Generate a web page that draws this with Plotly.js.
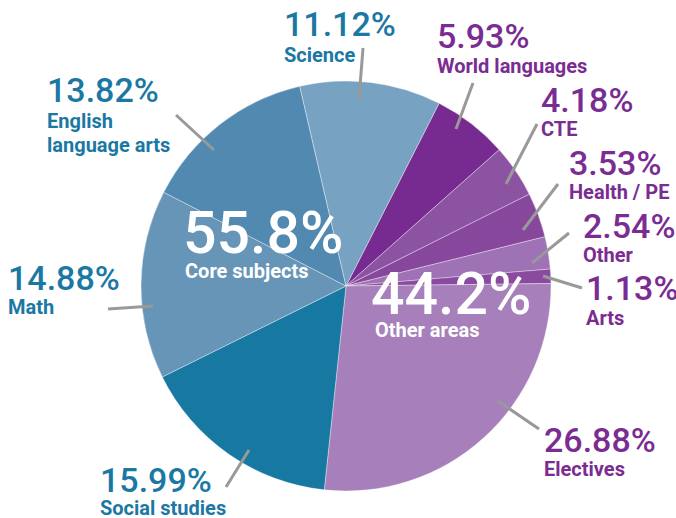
<!DOCTYPE html>
<html>
<head>
<meta charset="utf-8">
<script src="https://cdn.plot.ly/plotly-3.0.1.min.js"></script>
<style>html,body{margin:0;padding:0;background:#fff;}#chart{width:676px;height:518px;}</style>
</head>
<body>
<div id="chart"></div>
<script>
// ---- data ----
var subjects = ["World languages", "CTE", "Health / PE", "Other", "Arts", "Electives",
                "Social studies", "Math", "English language arts", "Science"];
var shares = [5.93, 4.18, 3.53, 2.54, 1.13, 26.88, 15.99, 14.88, 13.82, 11.12];
var groups = ["Other areas", "Other areas", "Other areas", "Other areas", "Other areas", "Other areas",
              "Core subjects", "Core subjects", "Core subjects", "Core subjects"];
var groupNames = ["Core subjects", "Other areas"];
var groupTotals = ["55.8%", "44.2%"];
var nameLabels = ["World languages", "CTE", "Health / PE", "Other", "Arts", "Electives",
                  "Social studies", "Math", "English<br>language arts", "Science"];

// ---- styles / layout ----
var sliceColors = ["#772a8f", "#8c53a2", "#86479c", "#9e72b4", "#8a4a9f", "#a780bb",
                   "#1778a2", "#6695b8", "#5189b0", "#78a2c1"];
var BLUE = "#1b78a3", PURPLE = "#7a2c92";
var W = 676, H = 518;
var CX = 346, CY = 286, R = 205;
// label placement: [left x, percent centre y, name centre y] in pixels
var labelPos = [
  [436, 36, 65.5], [540, 99.5, 129], [568, 163, 192], [582, 226, 254.5], [585, 288, 318],
  [543, 439.5, 469], [99, 479.5, 507.5], [7, 277.5, 306.5], [46, 90, 120.5], [283, 24, 55]
];
// leader lines [x0,y0,x1,y1] in pixels
var leaders = [
  [473, 83, 456, 129], [537, 124, 506, 184], [558, 184, 523, 230], [569, 233, 532, 263],
  [582, 288, 543, 276], [539, 429, 498, 401], [226, 487, 249, 450], [108, 309, 153, 306],
  [176, 115, 214, 150], [363, 48, 359, 99]
];
var bigPos = [[182, 232.5, 184, 271], [370, 293.5, 374, 330]];

function px(x) { return x / W; }
function py(y) { return 1 - y / H; }

var NUM_FONT = "Roboto, Liberation Sans, Arial, sans-serif";
var NAME_FONT = "Roboto, Liberation Sans, Arial, sans-serif";

var annotations = [];
var shapes = [];
subjects.forEach(function (s, i) {
  var col = groups[i] === "Core subjects" ? BLUE : PURPLE;
  var p = labelPos[i];
  annotations.push({
    xref: "paper", yref: "paper", x: px(p[0]), y: py(p[1]), xanchor: "left", yanchor: "middle",
    text: shares[i].toFixed(2) + "%", showarrow: false, borderpad: 0,
    font: {family: NUM_FONT, size: 34, color: col, weight: 500}
  });
  var nl = nameLabels[i].split("<br>");
  nl.forEach(function (t, k) {
    annotations.push({
      xref: "paper", yref: "paper", x: px(p[0]), y: py(p[2] + k * 25), xanchor: "left", yanchor: "middle",
      text: t, showarrow: false, borderpad: 0,
      font: {family: NAME_FONT, size: 20, color: col, weight: 700}
    });
  });
  var l = leaders[i];
  shapes.push({type: "line", xref: "paper", yref: "paper",
    x0: px(l[0]), y0: py(l[1]), x1: px(l[2]), y1: py(l[3]),
    line: {color: "#999999", width: 3}});
});
groupNames.forEach(function (g, i) {
  var b = bigPos[i];
  annotations.push({
    xref: "paper", yref: "paper", x: px(b[0]), y: py(b[1]), xanchor: "left", yanchor: "middle",
    text: groupTotals[i], showarrow: false, borderpad: 0,
    font: {family: NUM_FONT, size: 59, color: "#ffffff", weight: 500}
  });
  annotations.push({
    xref: "paper", yref: "paper", x: px(b[2]), y: py(b[3]), xanchor: "left", yanchor: "middle",
    text: g, showarrow: false, borderpad: 0,
    font: {family: NAME_FONT, size: 20, color: "#ffffff", weight: 700}
  });
});

var trace = {
  type: "pie",
  labels: subjects,
  values: shares,
  sort: false,
  direction: "clockwise",
  rotation: 27,
  textinfo: "none",
  hoverinfo: "label+percent",
  marker: {colors: sliceColors, line: {color: "rgba(255,255,255,0.45)", width: 0.8}},
  domain: {x: [px(CX - R), px(CX + R)], y: [py(CY + R), py(CY - R)]},
  showlegend: false
};

var layout = {
  width: W, height: H,
  margin: {l: 0, r: 0, t: 0, b: 0},
  paper_bgcolor: "#ffffff",
  showlegend: false,
  annotations: annotations,
  shapes: shapes
};

Plotly.newPlot("chart", [trace], layout, {displayModeBar: false, staticPlot: true});
</script>
</body>
</html>
